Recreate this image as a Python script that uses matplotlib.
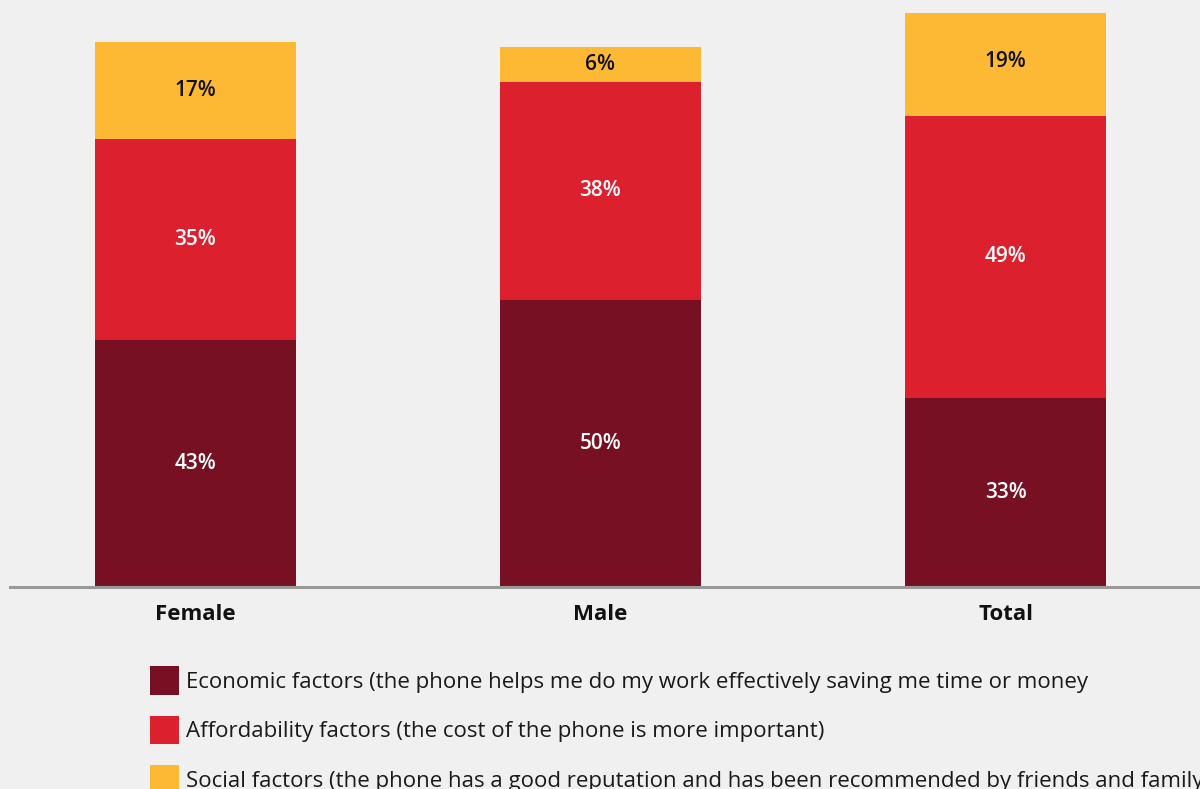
import matplotlib
matplotlib.use("Agg")
import matplotlib.pyplot as plt
import numpy as np

categories = ["Female", "Male", "Total"]
economic = [43, 50, 33]
affordability = [35, 38, 49]
social = [17, 6, 19]

series_names = [
    "Economic factors (the phone helps me do my work effectively saving me time or money",
    "Affordability factors (the cost of the phone is more important)",
    "Social factors (the phone has a good reputation and has been recommended by friends and family",
]
colors = ["#781024", "#DC202E", "#FDB933"]
text_colors = ["white", "white", "#111111"]

plt.rcParams["font.family"] = ["Open Sans", "DejaVu Sans"]

fig = plt.figure(figsize=(12, 7.89), dpi=100, facecolor="#F0F0F0")
ax = fig.add_axes([10 / 1200, (789 - 587) / 789, 1190 / 1200, 574 / 789])
ax.set_facecolor("#F0F0F0")

x = np.arange(len(categories))
bottom = np.zeros(len(categories))
handles = []
for vals, name, col, tcol in zip([economic, affordability, social], series_names, colors, text_colors):
    vals = np.array(vals, dtype=float)
    bars = ax.bar(x, vals, width=0.496, bottom=bottom, color=col, label=name, zorder=2)
    handles.append(bars)
    for xi, b, v in zip(x, bottom, vals):
        ax.text(xi, b + v / 2, f"{v:.0f}%", ha="center", va="center",
                color=tcol, fontsize=15, fontweight="semibold", zorder=3)
    bottom += vals

ax.set_xlim(-0.457, 2.48)
ax.set_ylim(0, 100)
ax.set_yticks([])
ax.set_xticks(x)
ax.set_xticklabels(categories, fontsize=16, fontweight="bold", color="#111111")
ax.tick_params(axis="x", length=0, pad=12)
for s in ["top", "left", "right"]:
    ax.spines[s].set_visible(False)
ax.spines["bottom"].set_color("#9A9A9A")
ax.spines["bottom"].set_linewidth(2.2)
ax.spines["bottom"].set_zorder(4)

fig.legend(handles=handles, labels=series_names, loc="upper left",
           bbox_to_anchor=(150 / 1200, 1 - 666 / 789), frameon=False,
           fontsize=16, handlelength=1.3, handleheight=1.6, handletextpad=0.3,
           labelspacing=0.95, borderpad=0, borderaxespad=0, labelcolor="#1a1a1a")

fig.savefig("out.png", dpi=100, facecolor=fig.get_facecolor())
